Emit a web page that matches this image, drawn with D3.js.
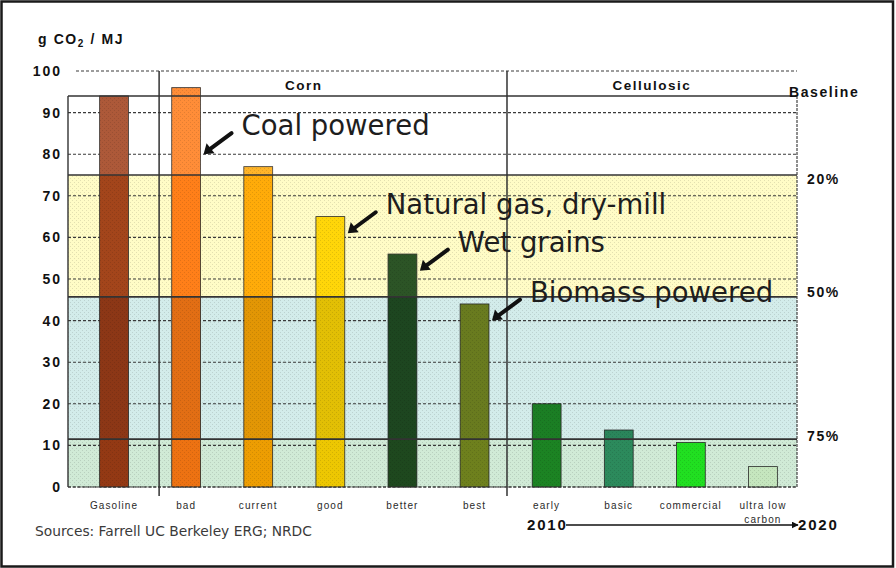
<!DOCTYPE html>
<html><head><meta charset="utf-8">
<script src="https://cdn.jsdelivr.net/npm/d3@7"></script>
<style>body{margin:0;background:#fff}svg{display:block}</style>
</head><body><svg id="c" width="896" height="568"></svg>
<script>
// ---- data ----
const categories = ["Gasoline","bad","current","good","better","best","early","basic","commercial","ultra low carbon"];
const values = [94, 96, 77, 65, 56, 44, 20, 13.7, 10.7, 4.9];
const barColors = ["#9e3a14","#ff7812","#ffa600","#ffd400","#1f4a1f","#76871e","#1d8a24","#2e9262","#22ee22","#d4f6cc"];
const yTicks = [0,10,20,30,40,50,60,70,80,90,100];
const thresholds = [94, 75, 45.7, 11.5];
const thresholdLabels = ["Baseline","20%","50%","75%"];
const bandColors = ["#ffffff","#fffcc6","#d3ecea","#d0ead6"];
const groupNames = ["Corn","Cellulosic"];
const annotationTexts = ["Coal powered","Natural gas, dry-mill","Wet grains","Biomass powered"];
const annotationCats = ["bad","good","better","best"];
const annotationValues = [80, 61, 52, 40];
const timelineLabels = ["2010","2020"];
const yTitle = "g CO";
const sourceText = "Sources: Farrell UC Berkeley ERG; NRDC";

// ---- layout ----
const plotL = 68, plotR = 797;
const svg = d3.select("#c");
const y = d3.scaleLinear().domain([0,100]).range([487,71]);
const x = d3.scaleBand().domain(categories).range([78,799]).padding(0);
const bw = x.bandwidth()*0.4;
const cx = c => x(c) + x.bandwidth()/2;
const xi = d3.scaleLinear().domain([0,categories.length-1]).range([cx(categories[0]), cx(categories[categories.length-1])]);

const defs = svg.append("defs");
const pat = defs.append("pattern").attr("id","tex").attr("width",4).attr("height",4).attr("patternUnits","userSpaceOnUse");
pat.append("rect").attr("x",0).attr("y",0).attr("width",1).attr("height",1).attr("fill","rgba(0,0,0,0.11)");
pat.append("rect").attr("x",2).attr("y",2).attr("width",1).attr("height",1).attr("fill","rgba(0,0,0,0.11)");
defs.append("marker").attr("id","ah2").attr("viewBox","0 0 10 10").attr("refX",9).attr("refY",5)
  .attr("markerWidth",7).attr("markerHeight",7).attr("markerUnits","userSpaceOnUse").attr("orient","auto")
  .append("path").attr("d","M0,0L10,5L0,10z").attr("fill","#111");

// bands
const bandTops = thresholds;
const bandBots = thresholds.slice(1).concat([0]);
svg.append("g").selectAll("rect").data(bandTops).join("rect")
  .attr("x",plotL).attr("width",plotR-plotL)
  .attr("y",d=>y(d)).attr("height",(d,i)=>y(bandBots[i])-y(d))
  .attr("fill",(d,i)=>bandColors[i]);
svg.append("rect").attr("x",plotL).attr("width",plotR-plotL).attr("y",y(thresholds[1])).attr("height",y(0)-y(thresholds[1])).attr("fill","url(#tex)");

// grid lines
svg.append("g").selectAll("line").data(yTicks).join("line")
  .attr("x1",d=>d===100?76:plotL).attr("x2",plotR)
  .attr("y1",d=>y(d)).attr("y2",d=>y(d))
  .attr("stroke","#3a3a3a").attr("stroke-width",1.1).attr("stroke-dasharray","3,2");

// y tick labels
svg.append("g").selectAll("text").data(yTicks).join("text")
  .attr("x",62).attr("y",d=>y(d)).attr("dy","0.36em").attr("text-anchor","end")
  .attr("font-family","Liberation Sans, Arial, sans-serif").attr("font-weight","bold")
  .attr("font-size",14).attr("letter-spacing","2px").attr("fill","#111")
  .text(d=>d);

// bars
const bars = svg.append("g");
bars.selectAll("rect").data(values).join("rect")
  .attr("x",(d,i)=>cx(categories[i])-bw/2).attr("width",bw)
  .attr("y",d=>y(d)).attr("height",d=>y(0)-y(d))
  .attr("fill",(d,i)=>barColors[i]).attr("stroke","#2a2a2a").attr("stroke-width",0.8);
// zone tint over bars
const clip = defs.append("clipPath").attr("id","barclip");
clip.selectAll("rect").data(values).join("rect")
  .attr("x",(d,i)=>cx(categories[i])-bw/2).attr("width",bw)
  .attr("y",d=>y(d)).attr("height",d=>y(0)-y(d));
const tints = ["rgba(255,255,255,0.16)","rgba(255,250,150,0.06)","rgba(20,40,40,0.12)","rgba(20,50,30,0.08)"];
const tg = svg.append("g").attr("clip-path","url(#barclip)");
tg.selectAll("rect.t").data(bandTops).join("rect").attr("class","t")
  .attr("x",plotL).attr("width",plotR-plotL)
  .attr("y",(d,i)=>i===0?y(100):y(d)).attr("height",(d,i)=>y(bandBots[i])-(i===0?y(100):y(d)))
  .attr("fill",(d,i)=>tints[i]);
tg.append("rect").attr("x",plotL).attr("width",plotR-plotL).attr("y",y(100)).attr("height",y(0)-y(100)).attr("fill","url(#tex)");

// threshold lines + box
svg.append("g").selectAll("line").data(thresholds).join("line")
  .attr("x1",plotL).attr("x2",plotR).attr("y1",d=>y(d)).attr("y2",d=>y(d))
  .attr("stroke","#333").attr("stroke-width",1.6);
svg.append("line").attr("x1",plotL).attr("x2",plotL).attr("y1",y(thresholds[0])).attr("y2",y(0)).attr("stroke","#333").attr("stroke-width",1.4);
svg.append("line").attr("x1",plotR).attr("x2",plotR).attr("y1",y(thresholds[0])).attr("y2",y(0)).attr("stroke","#444").attr("stroke-width",1.2).attr("stroke-dasharray","3,1");
svg.append("line").attr("x1",plotL).attr("x2",plotR).attr("y1",y(0)).attr("y2",y(0)).attr("stroke","#333").attr("stroke-width",1.2).attr("stroke-dasharray","3,1.5");

// group separators
const sepIdx = [0.625, 5.45];
svg.append("g").selectAll("line").data(sepIdx).join("line")
  .attr("x1",d=>xi(d)).attr("x2",d=>xi(d)).attr("y1",y(100)).attr("y2",y(0)+9)
  .attr("stroke","#333").attr("stroke-width",1.5);
const grpIdx = [2.63, 7.46];
svg.append("g").selectAll("text").data(groupNames).join("text")
  .attr("x",(d,i)=>xi(grpIdx[i])).attr("y",85).attr("dy","0.36em").attr("text-anchor","middle")
  .attr("font-family","Liberation Sans, Arial, sans-serif").attr("font-weight","bold")
  .attr("font-size",13.5).attr("letter-spacing","1.5px").attr("fill","#111").text(d=>d);

// threshold labels
svg.append("g").selectAll("text").data(thresholdLabels).join("text")
  .attr("x",(d,i)=>i===0?789:807).attr("y",(d,i)=>i===0?y(thresholds[0])-4:y(thresholds[i])+(i===1?4:i===2?-5:-3))
  .attr("dy","0.36em")
  .attr("font-family","Liberation Sans, Arial, sans-serif").attr("font-weight","bold")
  .attr("font-size",14).attr("letter-spacing","1.6px").attr("fill","#111").text(d=>d);

// category labels
const catG = svg.append("g");
categories.forEach((c,i)=>{
  const t = catG.append("text").attr("x",cx(c)).attr("y",505).attr("dy","0.36em").attr("text-anchor","middle")
    .attr("font-family","Liberation Sans, Arial, sans-serif").attr("font-size",10)
    .attr("letter-spacing","1.1px").attr("fill","#2a2a2a");
  if (c === "ultra low carbon") {
    t.append("tspan").attr("x",cx(c)).text("ultra low");
    t.append("tspan").attr("x",cx(c)).attr("dy","1.4em").text("carbon");
  } else t.text(c);
});

// annotations
const ag = svg.append("g");
annotationTexts.forEach((t,i)=>{
  const hx = x(annotationCats[i]) + x.bandwidth()/2 + bw/2 + 3;
  const hy = y(annotationValues[i]);
  ag.append("line").attr("x1",hx+28).attr("y1",hy-21).attr("x2",hx+5).attr("y2",hy-4)
    .attr("stroke","#111").attr("stroke-width",4).attr("stroke-linecap","round");
  ag.append("path").attr("d",`M${hx},${hy} L${hx+3},${hy-11} L${hx+11},${hy-1} Z`).attr("fill","#111");
  ag.append("text").attr("x",hx+38).attr("y",hy-19)
    .attr("font-family","DejaVu Sans, Verdana, sans-serif").attr("font-size",27.5)
    .attr("fill","#1e1e1e").text(t);
});

// y title
const tt = svg.append("text").attr("x",38).attr("y",44)
  .attr("font-family","Liberation Sans, Arial, sans-serif").attr("font-weight","bold")
  .attr("font-size",14).attr("letter-spacing","1.6px").attr("fill","#111");
tt.append("tspan").text(yTitle);
tt.append("tspan").attr("font-size",10).attr("dy",3).text("2");
tt.append("tspan").attr("dy",-3).text(" / MJ");

// timeline
svg.append("text").attr("x",527).attr("y",530)
  .attr("font-family","Liberation Sans, Arial, sans-serif").attr("font-weight","bold")
  .attr("font-size",15).attr("letter-spacing","1.8px").attr("fill","#111").text(timelineLabels[0]);
svg.append("line").attr("x1",566).attr("x2",798).attr("y1",525).attr("y2",525)
  .attr("stroke","#111").attr("stroke-width",1.4).attr("marker-end","url(#ah2)");
svg.append("text").attr("x",798).attr("y",530)
  .attr("font-family","Liberation Sans, Arial, sans-serif").attr("font-weight","bold")
  .attr("font-size",15).attr("letter-spacing","1.8px").attr("fill","#111").text(timelineLabels[1]);

// source
svg.append("text").attr("x",35).attr("y",536)
  .attr("font-family","DejaVu Sans, Verdana, sans-serif").attr("font-size",13.8)
  .attr("fill","#3a3a3a").text(sourceText);

// frame
svg.append("rect").attr("x",1.5).attr("y",1.5).attr("width",891.5).attr("height",565)
  .attr("fill","none").attr("stroke","#1a1a1a").attr("stroke-width",2.5);
</script></body></html>
